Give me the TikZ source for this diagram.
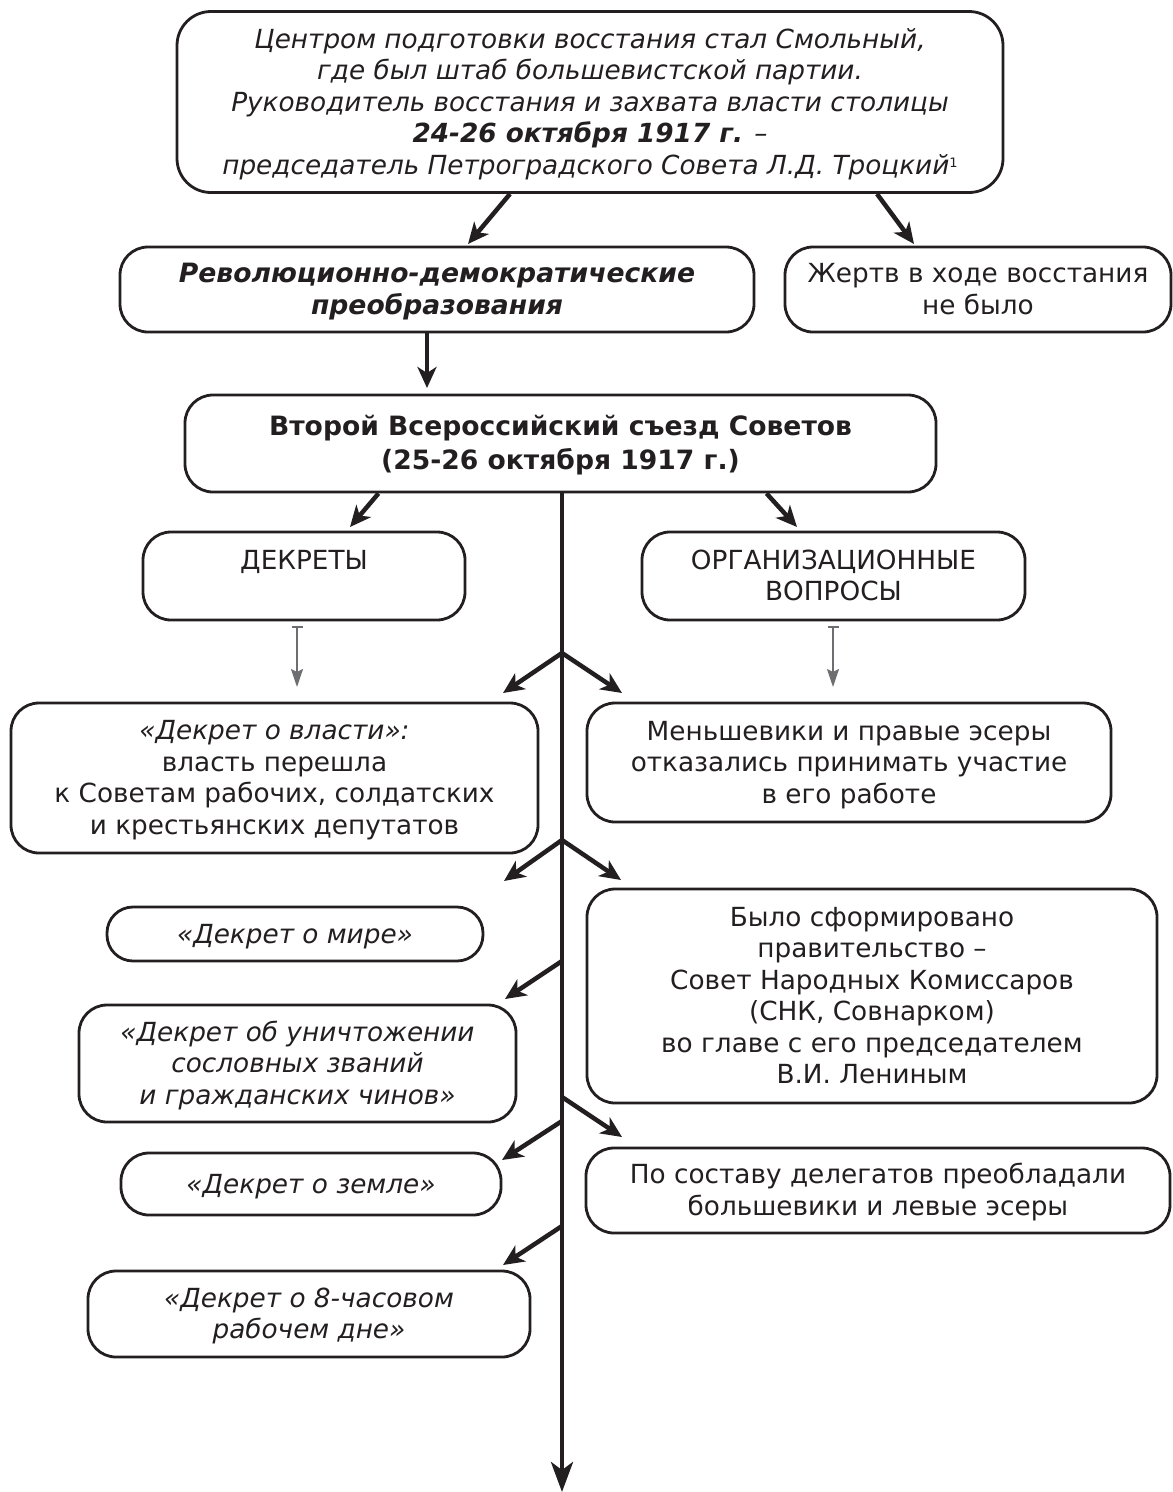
\documentclass[tikz,border=0pt]{standalone}
\usepackage{fontspec}
\setmainfont{DejaVu Sans}[ItalicFont={DejaVu Sans Oblique},BoldFont={DejaVu Sans Bold},BoldItalicFont={DejaVu Sans Bold Oblique}]
\usetikzlibrary{arrows.meta,calc}
\definecolor{ink}{HTML}{231F20}
\definecolor{greyarrow}{HTML}{6D6E71}
\begin{document}
\begin{tikzpicture}[x=1pt,y=-1pt,
  box/.style={draw=ink, line width=2.8pt, rounded corners=28pt, inner sep=0pt,
    align=center, text=ink, font=\fontsize{26.3}{31.5}\selectfont, text depth=8pt},
  itbox/.style={box, font=\fontsize{26.3}{31.5}\selectfont\itshape},
  one/.style={text height=26pt},
  two/.style={text height=57.5pt},
  three/.style={text height=89pt},
  four/.style={text height=120.5pt},
  five/.style={text height=152pt},
  six/.style={text height=183.5pt},
  arr/.style={draw=ink, line width=4.5pt, -{Stealth[length=21pt,width=19pt,inset=6pt]}},
  spine/.style={draw=ink, line width=4.5pt, -{Stealth[length=30pt,width=22pt,inset=8pt]}},
  grey/.style={draw=greyarrow, line width=2pt, {Bar[width=11pt,line width=2pt]}-{Stealth[length=18pt,width=12pt,inset=3pt]}}
]
\useasboundingbox (0,0) rectangle (1173,1492);

% boxes
\node[itbox, five, rounded corners=34pt, minimum width=826pt, minimum height=181pt] (top) at (590,102)
  {Центром подготовки восстания стал Смольный,\\
   где был штаб большевистской партии.\\
   Руководитель восстания и захвата власти столицы\\
   \textbf{24-26 октября 1917 г.} –\\
   председатель Петроградского Совета Л.Д. Троцкий\raisebox{7pt}{\fontsize{13}{13}\selectfont\upshape 1}};
\node[box, two, font=\fontsize{26.6}{31.5}\selectfont\bfseries\itshape, minimum width=634pt, minimum height=85pt] (rev) at (437,289.5)
  {Революционно-демократические\\преобразования};
\node[box, two, minimum width=386pt, minimum height=85pt] (victims) at (978,289.5)
  {Жертв в ходе восстания\\не было};
\node[box, font=\fontsize{26.6}{34}\selectfont\bfseries, text height=60pt, minimum width=751pt, minimum height=97pt] (congress) at (560.5,443.5)
  {Второй Всероссийский съезд Советов\\(25-26 октября 1917 г.)};
\node[box, two, minimum width=322pt, minimum height=88pt] (decrees) at (304,576)
  {ДЕКРЕТЫ\\~};
\node[box, two, minimum width=383pt, minimum height=88pt] (org) at (833.5,576)
  {ОРГАНИЗАЦИОННЫЕ\\ВОПРОСЫ};
\node[box, four, minimum width=527pt, minimum height=150pt] (power) at (274.5,778)
  {\textit{«Декрет о власти»:}\\власть перешла\\к Советам рабочих, солдатских\\и крестьянских депутатов};
\node[box, three, minimum width=524pt, minimum height=119pt] (mensh) at (849,762.5)
  {Меньшевики и правые эсеры\\отказались принимать участие\\в его работе};
\node[itbox, one, rounded corners=26pt, minimum width=376pt, minimum height=54pt] (peace) at (295,934)
  {«Декрет о мире»};
\node[box, six, minimum width=570pt, minimum height=214pt] (snk) at (872,996)
  {Было сформировано\\правительство –\\Совет Народных Комиссаров\\(СНК, Совнарком)\\во главе с его председателем\\В.И. Лениным};
\node[itbox, three, minimum width=437pt, minimum height=117pt] (estates) at (297.5,1063.5)
  {«Декрет об уничтожении\\сословных званий\\и гражданских чинов»};
\node[itbox, one, rounded corners=28pt, minimum width=380pt, minimum height=62pt] (land) at (311,1184)
  {«Декрет о земле»};
\node[box, two, minimum width=584pt, minimum height=85pt] (delegates) at (878,1190.5)
  {По составу делегатов преобладали\\большевики и левые эсеры};
\node[itbox, two, minimum width=442pt, minimum height=86pt] (eight) at (309,1314)
  {«Декрет о 8-часовом\\рабочем дне»};

% spine and junctions
\coordinate (sTop) at (562,492);
\coordinate (sEnd) at (562,1492);
\coordinate (j1) at (562,653);
\coordinate (j2) at (562,840);
\coordinate (j3) at (562,961);
\coordinate (j4r) at (562,1097);
\coordinate (j4l) at (562,1121);
\coordinate (j5) at (562,1226);
\coordinate (t1l) at (503,693);
\coordinate (t1r) at (622,693);
\coordinate (t2l) at (504,881);
\coordinate (t2r) at (621,880);
\coordinate (t3) at (505,999);
\coordinate (t4r) at (622,1137);
\coordinate (t4l) at (502,1160);
\coordinate (t5) at (503,1265);
\coordinate (tRev) at (468,244);
\coordinate (tVic) at (914,244);
\coordinate (tCong) at (427,388);
\coordinate (tDec) at (350,527);
\coordinate (tOrg) at (797,527);
\coordinate (gDecS) at (297,626);
\coordinate (gDec) at (297,687);
\coordinate (gOrgS) at (833,626);
\coordinate (gOrg) at (833,687);

\draw[spine] (sTop) -- (sEnd);

\draw[arr] ($(top.south)+(-80,0)$) -- (tRev);
\draw[arr] ($(top.south)+(287,0)$) -- (tVic);
\draw[arr] (rev.south -| tCong) -- (tCong);
\draw[arr] ($(congress.south)+(-182,0)$) -- (tDec);
\draw[arr] ($(congress.south)+(206,0)$) -- (tOrg);

\draw[grey] (gDecS) -- (gDec);
\draw[grey] (gOrgS) -- (gOrg);

\draw[arr] (j1) -- (t1l);
\draw[arr] (j1) -- (t1r);
\draw[arr] (j2) -- (t2l);
\draw[arr] (j2) -- (t2r);
\draw[arr] (j3) -- (t3);
\draw[arr] (j4r) -- (t4r);
\draw[arr] (j4l) -- (t4l);
\draw[arr] (j5) -- (t5);
\end{tikzpicture}
\end{document}
